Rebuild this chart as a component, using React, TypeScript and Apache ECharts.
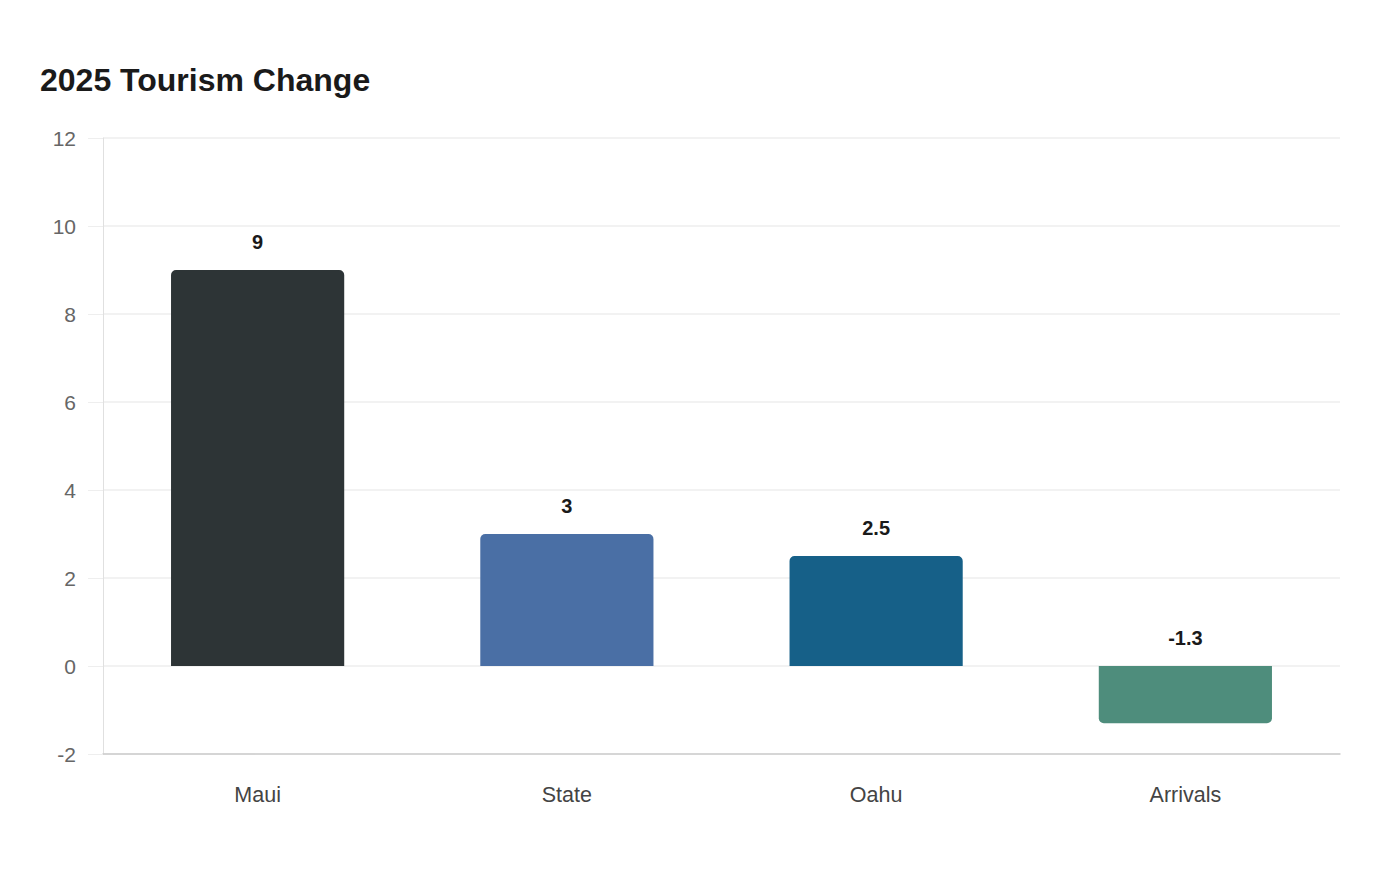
import { useEffect, useRef } from 'react';
import * as echarts from 'echarts';

const categories = ['Maui', 'State', 'Oahu', 'Arrivals'];
const values = [9, 3, 2.5, -1.3];
const barColors = ['#2d3436', '#4a6fa5', '#166088', '#4e8d7c'];
const yTicks = { min: -2, max: 12, interval: 2 };

export default function App() {
    const chartRef = useRef<HTMLDivElement>(null);

    useEffect(() => {
        document.body.style.margin = '0';
        if (!chartRef.current) return;
        const chart = echarts.init(chartRef.current, null, { renderer: 'svg' });
        chart.setOption({
            animation: false,
            backgroundColor: '#ffffff',
            textStyle: { fontFamily: '"Liberation Sans", Arial, sans-serif' },
            title: {
                text: '2025 Tourism Change',
                left: 35,
                top: 59,
                textStyle: { fontSize: 32, fontWeight: 'bold', color: '#1a1a1a' }
            },
            grid: { left: 103, right: 60, top: 138, bottom: 126 },
            xAxis: {
                type: 'category',
                data: categories,
                axisLine: { onZero: false, lineStyle: { color: '#cccccc', width: 1.5 } },
                axisTick: { show: false },
                axisLabel: { fontSize: 21.5, color: '#444444', margin: 30 }
            },
            yAxis: {
                type: 'value',
                min: yTicks.min,
                max: yTicks.max,
                interval: yTicks.interval,
                axisLine: { show: true, lineStyle: { color: '#e0e0e0' } },
                axisTick: { show: true, length: 15, lineStyle: { color: '#eeeeee' } },
                axisLabel: { fontSize: 21, color: '#666666', margin: 27 },
                splitLine: { lineStyle: { color: '#eeeeee', width: 1.5 } }
            },
            series: [
                {
                    type: 'bar',
                    barWidth: '56%',
                    data: values.map((v, i) => ({
                        value: v,
                        itemStyle: {
                            color: barColors[i],
                            borderRadius: v >= 0 ? [5, 5, 0, 0] : [0, 0, 5, 5]
                        }
                    })),
                    label: {
                        show: true,
                        position: 'top',
                        distance: 18,
                        fontSize: 20,
                        fontWeight: 'bold',
                        color: '#1a1a1a'
                    }
                }
            ]
        });
        return () => chart.dispose();
    }, []);

    return <div ref={chartRef} style={{ width: '1400px', height: '880px' }}></div>;
}
